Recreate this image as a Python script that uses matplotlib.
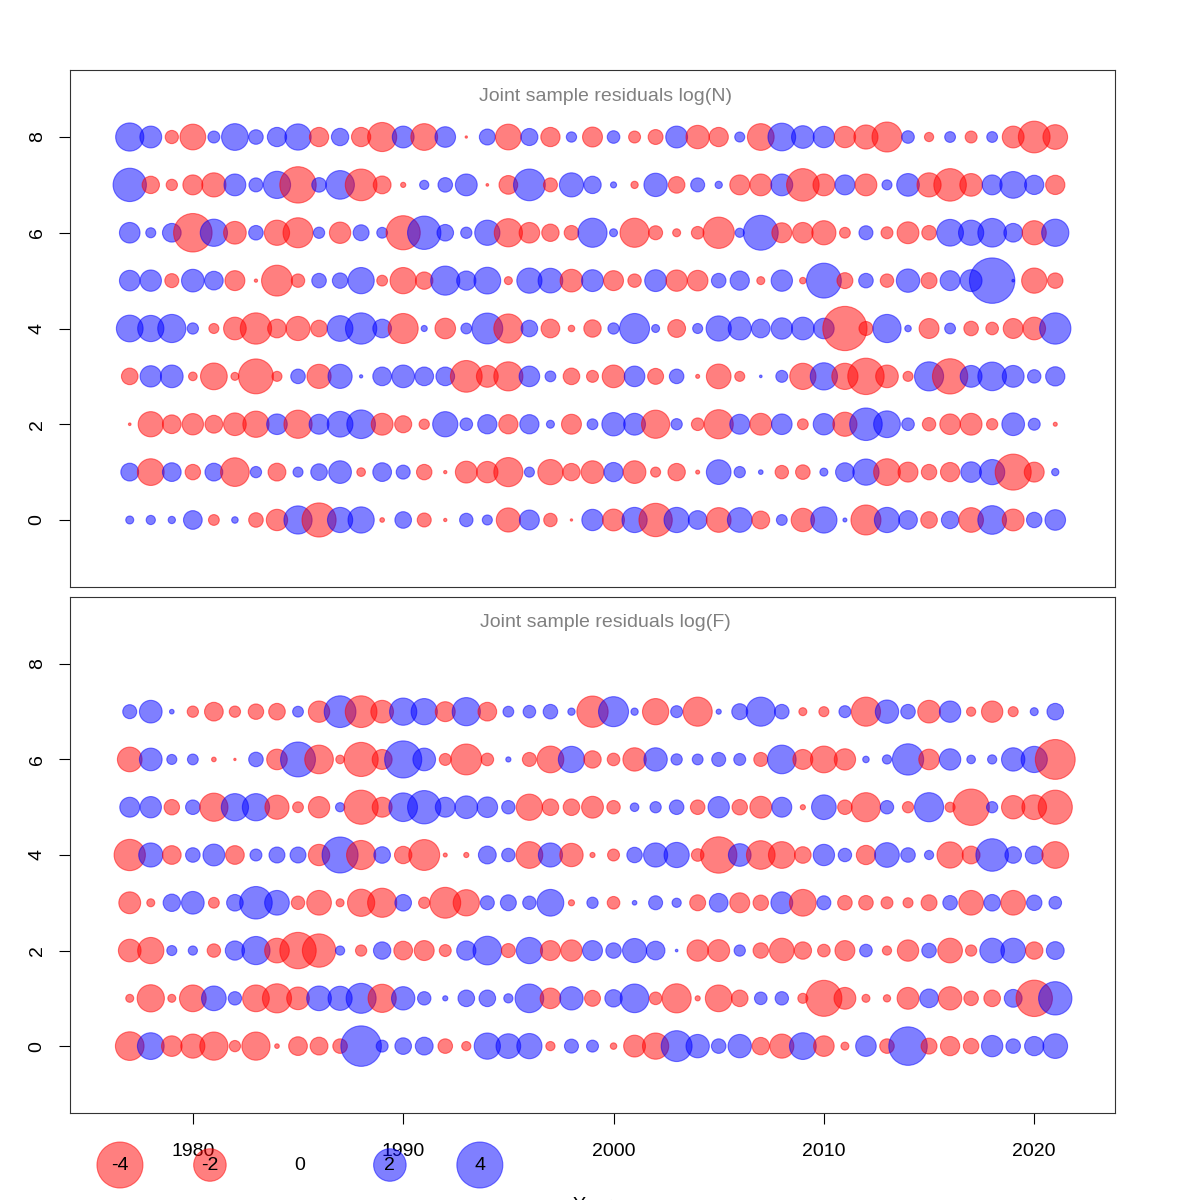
import numpy as np
import matplotlib
matplotlib.use("Agg")
import matplotlib.pyplot as plt

plt.rcParams['font.family'] = ['Liberation Sans', 'DejaVu Sans']

years = list(range(1977, 2022))

# joint sample residuals log(N), ages 0..8 (blue > 0, red < 0)
n_age0 = [0.12, 0.16, 0.1, 0.66, -0.22, 0.08, -0.4, -0.86, 1.5, -2.2, 1.2, 1.3, -0.04, 0.52, -0.37,
          -0.02, 0.34, 0.19, -1.1, 0.75, -0.34, -0.01, 0.86, -0.9, 1.2, -2.1, 1.2, 0.66, -1.15, 1.15,
          -0.6, 0.22, -1.03, 1.3, 0.03, -1.7, 1.2, 0.66, -0.52, 0.57, -1.15, 1.55, -0.9, 0.45, 0.8]
n_age1 = [0.6, -1.35, 0.66, -0.45, 0.6, -1.55, 0.24, -0.6, 0.19, 0.52, 0.97, -0.14, 0.66, 0.37, -0.45,
          -0.02, -0.9, -0.86, -1.6, 0.19, -1.2, -0.57, -0.97, 0.7, -0.97, -0.19, -0.57, -0.03, 1.15, 0.24,
          0.04, -0.34, -0.4, 0.12, 0.66, 1.3, -1.35, -0.75, -0.45, -0.7, 0.8, 1.2, -2.45, -0.75, 0.1]
n_age2 = [-0.013, -1.2, -0.66, -0.86, -0.6, -0.97, -1.3, 0.8, -1.5, 0.75, 1.25, 1.55, -0.9, -0.55, -0.2,
          1.2, 0.3, 0.7, -0.7, 0.7, 0.12, -0.75, 0.22, 1.03, 0.9, -1.5, 0.24, -0.3, -1.6, 0.75,
          -0.9, 0.8, -0.22, 0.86, -1.1, 2.0, 1.35, 0.3, -0.34, -0.8, -0.9, -0.24, 0.97, 0.27, -0.03]
n_age3 = [-0.52, 0.86, 0.97, -0.14, -1.35, -0.12, -2.3, -0.19, 0.4, -1.1, 1.1, 0.02, 0.66, 0.97, 0.66,
          0.66, -1.9, -0.9, -1.6, 0.8, 0.22, -0.52, -0.27, -0.97, 0.8, -0.48, 0.4, -0.03, -1.15, -0.19,
          0.013, 0.27, -1.3, 1.4, -1.3, -2.5, -0.97, -0.19, 1.6, -2.35, 0.9, 1.55, 0.9, 0.34, 0.7]
n_age4 = [1.35, 1.3, 1.5, 0.24, -0.19, -0.97, -1.85, -0.66, -1.1, -0.52, 1.25, 1.85, 0.66, -1.7, 0.07,
          -0.8, 0.22, 1.8, -1.6, 0.52, -0.66, -0.08, -0.57, 0.24, 1.7, 0.12, -0.6, 0.19, 1.2, 1.0,
          0.66, 0.86, 0.97, 0.8, -3.7, -0.37, 1.5, 0.08, -0.75, 0.22, -0.4, -0.3, -0.75, -0.97, 1.85]
n_age5 = [0.8, 0.86, -0.37, 0.97, 0.66, -0.75, -0.02, -1.8, -0.34, 0.4, 0.45, 1.3, -0.22, -1.3, -0.57,
          1.6, 0.7, 1.35, -0.12, 1.2, 1.15, -0.97, 0.9, -0.75, -0.34, 0.9, -0.86, -0.8, 0.4, 0.7,
          -0.12, 0.86, -0.08, 2.3, -0.48, 0.4, -0.34, 1.03, -0.48, 0.75, 0.9, 3.9, 0.013, -1.2, -0.45]
n_age6 = [0.8, 0.19, 0.66, -2.8, 1.4, -0.97, 0.4, -1.2, -1.7, 0.24, -0.86, 0.48, 0.22, -2.2, 2.1,
          0.52, 0.24, 1.2, -1.5, -0.8, -0.57, -0.4, 1.6, 0.12, -1.6, -0.37, -0.12, -0.3, -1.85, 0.16,
          2.3, -0.75, -0.8, -1.1, -0.22, 0.37, -0.27, -0.9, -0.4, 1.35, 1.2, 1.55, 0.66, -1.1, 1.4]
n_age7 = [2.1, -0.57, -0.24, -0.75, -1.1, 0.9, 0.37, 1.4, -2.5, 0.4, 1.55, -1.9, -0.6, -0.05, 0.16,
          0.4, 0.9, -0.013, -0.66, 1.9, -0.37, 1.1, 0.57, 0.07, -0.1, 1.03, -0.52, 0.37, 0.1, -0.75,
          -0.9, 0.9, -2.0, -0.9, 0.75, -0.9, 0.19, 0.97, -1.1, -2.0, -0.97, 0.75, 1.35, 0.7, -0.7]
n_age8 = [1.5, 0.9, -0.33, -1.25, 0.27, 1.35, 0.4, 0.7, 1.3, -0.7, 0.57, -0.7, -1.6, 0.9, -1.35,
          0.8, -0.01, 0.48, -1.25, 0.55, -0.7, 0.2, -0.75, 0.3, -0.27, -0.42, 0.9, -1.03, -0.7, 0.19,
          -1.35, 1.45, 0.97, 0.86, -0.86, -1.1, -1.7, 0.3, -0.16, 0.22, -0.27, 0.22, -0.9, -1.9, -1.15]

# joint sample residuals log(F), ages 0..7
f_age0 = [-1.55, 1.35, -0.8, -1.1, -1.5, -0.24, -1.5, -0.04, -0.66, -0.6, -0.4, 3.1, 0.27, 0.52, 0.6,
          -0.4, -0.16, 1.3, 1.15, 1.2, -0.16, 0.37, 0.27, -0.08, -0.9, -1.3, 1.8, 1.03, 0.4, 1.03,
          -0.57, -1.1, 1.35, -0.8, -0.12, 0.8, -0.4, 2.8, -0.48, -0.7, -0.45, 0.86, 0.4, 0.7, 1.15]
f_age1 = [-0.12, -1.4, -0.12, -1.35, 1.15, 0.34, -1.35, -1.6, -0.97, 1.15, 1.1, 1.7, -1.5, 1.03, 0.34,
          0.05, 0.52, 0.52, 0.16, 1.55, -0.8, 1.03, -0.48, 0.57, 1.55, -0.3, -1.6, -0.05, -1.35, -0.52,
          0.3, 0.34, -0.19, -2.45, -0.9, -0.12, -0.1, -0.9, 0.66, -1.03, -0.4, -0.52, 0.6, -2.5, 2.1]
f_age2 = [-0.97, -1.3, 0.19, 0.16, -0.34, 0.7, 1.5, -1.15, -2.5, -2.1, 0.16, -0.24, 0.57, -0.66, -0.75,
          -0.27, 0.7, 1.55, -0.37, 1.3, -0.75, -0.86, 0.75, 0.45, 1.1, 0.66, 0.013, -0.86, -0.9, 0.24,
          -0.45, -1.15, -0.57, -0.3, -0.75, 0.3, -0.16, -0.86, 0.4, -1.15, -0.24, 1.15, 1.15, -0.57, 0.6]
f_age3 = [-0.9, -0.12, 0.57, 0.97, -0.22, 0.52, 2.0, 1.15, -0.34, -1.15, -0.12, -1.4, -1.6, 0.52, -0.24,
          -1.8, -1.3, 0.37, 0.48, 0.34, 1.35, -0.07, 0.24, -0.3, 0.04, 0.37, 0.16, -0.48, 0.66, -0.75,
          -0.45, 0.9, -1.35, 0.37, -0.4, -0.4, -0.27, -0.19, -0.48, 0.4, -1.15, 0.52, -1.15, 0.45, 0.3]
f_age4 = [-1.85, 1.1, -0.66, 0.4, 0.9, -0.66, 0.27, 0.48, 0.48, -0.86, 2.45, -1.6, 0.52, -0.57, -1.8,
          -0.03, -0.05, 0.6, 0.34, -1.35, 1.1, -1.03, -0.05, -0.27, 0.45, 1.1, 1.2, -0.3, -2.5, 0.97,
          -1.55, -1.35, -0.52, 0.86, 0.34, -0.7, 1.15, 0.4, 0.16, -1.3, -0.6, 2.0, 0.52, 0.6, -1.35]
f_age5 = [0.75, 0.86, -0.45, 0.4, -1.5, 1.4, 1.4, -1.1, -0.22, -0.86, 0.16, -2.2, -0.75, 1.55, 2.1,
          0.75, 0.97, 0.8, 0.34, -1.3, -0.52, -0.52, -0.9, -0.34, 0.14, 0.24, 0.4, -0.4, 0.86, -0.45,
          -0.9, 0.75, -0.05, 1.15, -0.4, -1.6, 0.34, -0.24, 1.6, -0.19, -2.5, 0.24, -1.03, -1.15, -2.2]
f_age6 = [-1.15, 0.97, 0.19, 0.22, -0.04, -0.01, 0.4, -0.8, 2.3, -1.55, -0.14, -2.2, -0.75, 2.6, 0.97,
          -0.27, -1.8, -0.3, 0.05, -0.37, -1.35, 1.3, -0.57, -0.3, -1.03, 1.03, 0.24, 0.22, 0.37, 0.27,
          -0.37, 1.55, -0.75, -1.35, -0.86, 0.08, 0.16, 1.85, -0.8, 0.86, 0.14, 0.16, 1.03, 1.3, -3.0]
f_age7 = [0.37, 0.97, 0.04, -0.24, -0.66, -0.24, -0.45, -0.52, 0.22, -0.86, 1.9, -1.9, -0.97, 1.4, 1.3,
          -0.75, 1.5, -0.66, 0.22, 0.3, 0.4, 0.1, -1.85, 1.7, 0.1, -1.3, 0.27, -1.6, 0.05, 0.48,
          1.6, 0.4, -0.12, -0.19, 0.27, -1.6, 1.03, 0.4, -0.97, 0.86, -0.16, -0.86, -0.19, 0.12, 0.52]

n_rows = [n_age0, n_age1, n_age2, n_age3, n_age4, n_age5, n_age6, n_age7, n_age8]
f_rows = [f_age0, f_age1, f_age2, f_age3, f_age4, f_age5, f_age6, f_age7]

legend_vals = [-4, -2, 0, 2, 4]

SCALE = 274.0  # marker area (pt^2) per unit of |residual|
BLUE = (0, 0, 1, 0.5)
RED = (1, 0, 0, 0.5)
FS = 14


def colours(vals):
    return [BLUE if v > 0 else RED for v in vals]


def bubbles(ax, rows, title):
    for age, vals in enumerate(rows):
        v = np.asarray(vals, dtype=float)
        c = colours(v)
        ax.scatter(years, np.full(len(years), age), s=SCALE * np.abs(v),
                   facecolors=c, edgecolors=c, linewidths=0.8)
    ax.set_xlim(1974.16, 2023.84)
    ax.set_ylim(-1.4, 9.4)
    ax.set_yticks([0, 2, 4, 6, 8])
    ax.set_yticklabels(["0", "2", "4", "6", "8"], rotation=90, va="center")
    ax.tick_params(axis="y", length=8, width=0.8, pad=9.5, labelsize=FS)
    ax.tick_params(axis="x", length=8, width=0.8, pad=13.5, labelsize=FS)
    for sp in ax.spines.values():
        sp.set_linewidth(0.8)
        sp.set_color("#333333")
    ax.text(0.512, 0.9497, title, transform=ax.transAxes, ha="center", va="center",
            color="#808080", fontsize=FS)


fig = plt.figure(figsize=(12, 12), dpi=100)
ax1 = fig.add_axes([70 / 1200, 1 - 587 / 1200, 1045 / 1200, 517 / 1200])
ax2 = fig.add_axes([70 / 1200, 1 - 1113 / 1200, 1045 / 1200, 516 / 1200])

bubbles(ax1, n_rows, "Joint sample residuals log(N)")
bubbles(ax2, f_rows, "Joint sample residuals log(F)")

ax1.set_xticks([])
ax2.set_xticks([1980, 1990, 2000, 2010, 2020])

# size legend below the lower panel
lx = [0.0478 + 0.0861 * i for i in range(len(legend_vals))]
ly = -0.1008
ax2.scatter(lx, [ly] * len(lx), s=SCALE * np.abs(legend_vals), facecolors=colours(legend_vals),
            edgecolors=colours(legend_vals), linewidths=0.8, transform=ax2.transAxes,
            clip_on=False, zorder=5)
for x, v in zip(lx, legend_vals):
    ax2.text(x, ly, str(v), transform=ax2.transAxes, ha="center", va="center",
             fontsize=FS, zorder=6)

fig.text(592 / 1200, 1 - 1206 / 1200, "Year", ha="center", va="center", fontsize=FS)
fig.text(-8 / 1200, 1 - 592 / 1200, "Age", ha="center", va="center", rotation=90, fontsize=FS)

fig.savefig("out.png", dpi=100)
